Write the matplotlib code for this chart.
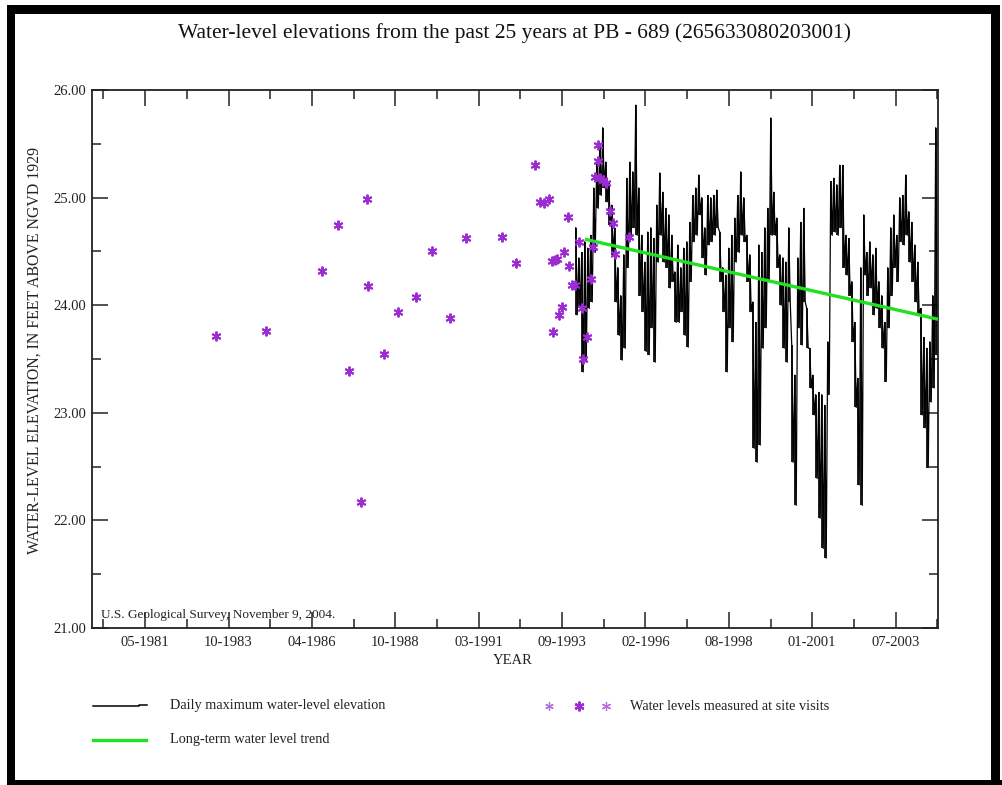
import numpy as np
import matplotlib
matplotlib.use("Agg")
import matplotlib.pyplot as plt
from matplotlib.lines import Line2D
from matplotlib.patches import Rectangle
from matplotlib.ticker import FixedLocator, MultipleLocator, FuncFormatter

plt.rcParams["font.family"] = ["Liberation Serif", "DejaVu Serif"]

# ---------------------------------------------------------------------------
# Daily maximum water-level elevation (feet above NGVD 1929).
# High / low of the daily record on an evenly spaced grid (~32 days),
# starting early 1994 and running to the end of the record in late 2004.
daily_start = 1994.107
daily_step = 0.08865
daily_high = [
    24.72, 24.44, 24.49, 24.59, 24.53, 24.65, 25.09, 25.33, 25.46, 25.65,
    25.33, 25.15, 24.93, 24.72, 24.35, 24.09, 24.47, 25.18, 25.33, 25.24,
    25.86, 25.09, 24.65, 24.40, 24.68, 24.72, 24.62, 24.93, 25.23,
    25.05, 24.90, 24.84, 24.65, 24.31, 24.56, 24.35, 24.53, 24.59, 24.77,
    25.02, 25.09, 25.21, 25.00, 24.72, 25.02, 25.00, 25.02, 25.07, 24.68,
    24.35, 24.28, 24.53, 24.65, 24.81, 25.02, 25.24, 25.00, 24.65, 24.47,
    24.03, 23.84, 24.56, 24.49, 24.72, 24.90, 25.74, 25.05, 24.81, 24.47,
    24.44, 24.40, 24.72, 23.63, 23.35, 24.44, 24.77, 24.90, 23.97, 23.60,
    23.35, 23.17, 23.19, 23.17, 23.07, 23.66, 25.15, 25.18, 25.12, 25.30,
    25.30, 24.65, 24.62, 24.22, 23.84, 23.32, 24.35, 24.84, 24.49, 24.59,
    24.47, 24.53, 24.22, 24.09, 23.84, 24.35, 24.72, 24.84, 24.65, 25.00,
    25.02, 25.21, 24.87, 24.77, 24.56, 24.40, 23.97, 23.70, 23.60, 23.66,
    24.09, 25.65,
]
daily_low = [
    23.91, 23.97, 23.38, 23.47, 23.97, 24.03, 24.49, 24.90, 25.02, 25.09,
    24.96, 24.75, 24.47, 24.03, 23.72, 23.49, 23.60, 24.35, 24.65, 24.72,
    24.65, 24.09, 23.94, 23.57, 23.54, 23.79, 23.47, 24.40, 24.65,
    24.40, 24.35, 24.16, 24.22, 23.84, 23.84, 23.94, 23.72, 23.61, 24.22,
    24.59, 24.65, 24.84, 24.44, 24.28, 24.56, 24.59, 24.65, 24.72, 24.22,
    23.94, 23.38, 23.79, 23.66, 24.40, 24.49, 24.65, 24.59, 24.22, 23.94,
    22.67, 22.54, 22.70, 23.60, 23.79, 24.22, 24.65, 24.65, 24.35, 24.00,
    23.60, 23.47, 24.03, 22.54, 22.14, 23.79, 23.63, 24.03, 23.60, 23.23,
    22.98, 22.39, 22.02, 21.74, 21.65, 23.17, 24.65, 24.68, 24.65, 24.72,
    24.35, 24.28, 24.09, 23.66, 23.05, 22.33, 22.14, 24.28, 24.09, 24.16,
    23.91, 23.97, 23.79, 23.60, 23.29, 23.79, 24.09, 24.35, 24.22, 24.59,
    24.56, 24.65, 24.40, 24.22, 24.03, 23.91, 22.98, 22.86, 22.49, 23.10,
    23.23, 23.54,
]

# Water levels measured at site visits (decimal year, feet)
visit_year = [
    1983.45, 1984.92, 1986.59, 1987.05, 1987.38, 1987.73, 1987.91, 1987.95,
    1988.42, 1988.83, 1989.36, 1989.84, 1990.37, 1990.84, 1991.91, 1992.32,
    1992.88, 1993.03, 1993.15, 1993.29, 1993.38, 1993.47, 1993.53, 1993.41,
    1993.59, 1993.68, 1993.74, 1993.86, 1993.89, 1993.97, 1994.06, 1994.18,
    1994.27, 1994.30, 1994.42, 1994.54, 1994.60, 1994.74, 1994.74, 1994.65,
    1994.80, 1994.89, 1994.98, 1995.10, 1995.19, 1995.24, 1995.66,
]
visit_level = [
    23.71, 23.76, 24.32, 24.75, 23.39, 22.17, 24.99, 24.18,
    23.55, 23.94, 24.08, 24.50, 23.88, 24.62, 24.63, 24.39,
    25.30, 24.96, 24.95, 24.99, 24.41, 24.42, 24.43, 23.75,
    23.91, 23.98, 24.49, 24.82, 24.36, 24.19, 24.19, 24.59,
    23.97, 23.50, 23.70, 24.24, 24.54, 25.49, 25.34, 25.19,
    25.18, 25.16, 25.14, 24.88, 24.76, 24.48, 24.63,
]

# Long-term water level trend (end points of the fitted line)
trend_year = [1994.40, 2004.79]
trend_level = [24.61, 23.87]

# Time axis: 25 years, labelled every 900 days
x_start, x_end = 1979.79, 2004.79
first_tick = 1981.36
tick_step = 900 / 365.25
tick_labels = ["05-1981", "10-1983", "04-1986", "10-1988", "03-1991",
               "09-1993", "02-1996", "08-1998", "01-2001", "07-2003"]

TEXT = "#222222"
PURPLE = "#9a2cd2"
GREEN = "#22e022"

W, H = 1003, 785
fig = plt.figure(figsize=(W / 100, H / 100), dpi=100)


def fx(px):
    return px / W


def fy(py):
    return 1 - py / H


ax = fig.add_axes([fx(92), fy(628), (938 - 92) / W, (628 - 90) / H])

# daily record: each period's high-low range plus a zig-zag joining them
t_daily = [daily_start + k * daily_step for k in range(len(daily_high))]
ax.vlines(t_daily, daily_low, daily_high, color="black", lw=1.25, zorder=2)
xs, ys = [], []
for t, hi, lo in zip(t_daily, daily_high, daily_low):
    xs += [t - daily_step / 4, t + daily_step / 4]
    ys += [hi, lo]
ax.plot(xs, ys, color="black", lw=0.9, zorder=2)

ax.plot(trend_year, trend_level, color=GREEN, lw=2.4, zorder=3)

ax.plot(visit_year, visit_level, linestyle="none", marker=(6, 2, 0),
        markersize=7, markeredgewidth=1.4, color=PURPLE, zorder=4)

ax.set_xlim(x_start, x_end)
ax.set_ylim(21, 26)

major = [first_tick + i * tick_step for i in range(len(tick_labels))]
minor = [first_tick - tick_step / 2 + i * tick_step for i in range(len(tick_labels) + 1)]
ax.xaxis.set_major_locator(FixedLocator(major))
ax.xaxis.set_minor_locator(FixedLocator(minor))
ax.set_xticklabels(tick_labels)
ax.yaxis.set_major_locator(MultipleLocator(1))
ax.yaxis.set_minor_locator(MultipleLocator(0.5))
ax.yaxis.set_major_formatter(FuncFormatter(lambda v, p: f"{v:.2f}"))

ax.tick_params(which="both", direction="in", top=True, right=True,
               width=1.1, color="#222222", labelcolor=TEXT, labelsize=10.5)
ax.tick_params(which="major", length=11.5)
ax.tick_params(which="minor", length=6.5)
ax.tick_params(axis="x", pad=6)
ax.tick_params(axis="y", pad=4)
for s in ax.spines.values():
    s.set_linewidth(1.3)
    s.set_color("#222222")

ax.text(0.011, 0.025, "U.S. Geological Survey, November 9, 2004.",
        transform=ax.transAxes, fontsize=9.5, color=TEXT, ha="left", va="center")

fig.text(fx(515), fy(33), "Water-level elevations from the past 25 years at PB - 689 (265633080203001)",
         fontsize=15.5, color="#111111", ha="center", va="center")
fig.text(fx(35), fy(351), "WATER-LEVEL ELEVATION, IN FEET ABOVE NGVD 1929",
         rotation=90, fontsize=11.4, color=TEXT, ha="center", va="center")
fig.text(fx(513), fy(660), "YEAR", fontsize=10.5, color=TEXT, ha="center", va="center")

# legend
fig.add_artist(Line2D([fx(93), fx(139), fx(139), fx(147)],
                      [fy(706), fy(706), fy(704.5), fy(704.5)],
                      color="black", lw=1.1, transform=fig.transFigure))
fig.text(fx(170), fy(705), "Daily maximum water-level elevation",
         fontsize=10.3, color=TEXT, ha="left", va="center")
fig.add_artist(Line2D([fx(93), fx(146)], [fy(740), fy(740)],
                      color=GREEN, lw=2.4, transform=fig.transFigure))
fig.text(fx(170), fy(740), "Long-term water level trend",
         fontsize=10.3, color=TEXT, ha="left", va="center")
for px, ms, mew, col in [(549, 6, 0.9, "#b56be0"), (579, 7, 1.6, PURPLE), (606, 6.5, 0.9, "#b56be0")]:
    fig.add_artist(Line2D([fx(px)], [fy(706)], linestyle="none", marker=(6, 2, 0),
                          markersize=ms, markeredgewidth=mew, color=col,
                          transform=fig.transFigure))
fig.text(fx(630), fy(707), "Water levels measured at site visits",
         fontsize=10.3, color=TEXT, ha="left", va="center")

# black frame around the page
for x0, y0, x1, y1 in [(7, 5, 1000, 14), (7, 5, 15, 785), (7, 780, 1003, 785), (991, 5, 1000, 785)]:
    fig.add_artist(Rectangle((fx(x0), fy(y1)), (x1 - x0) / W, (y1 - y0) / H,
                             transform=fig.transFigure, color="black", lw=0))

fig.savefig("out.png", dpi=100, facecolor="white")
